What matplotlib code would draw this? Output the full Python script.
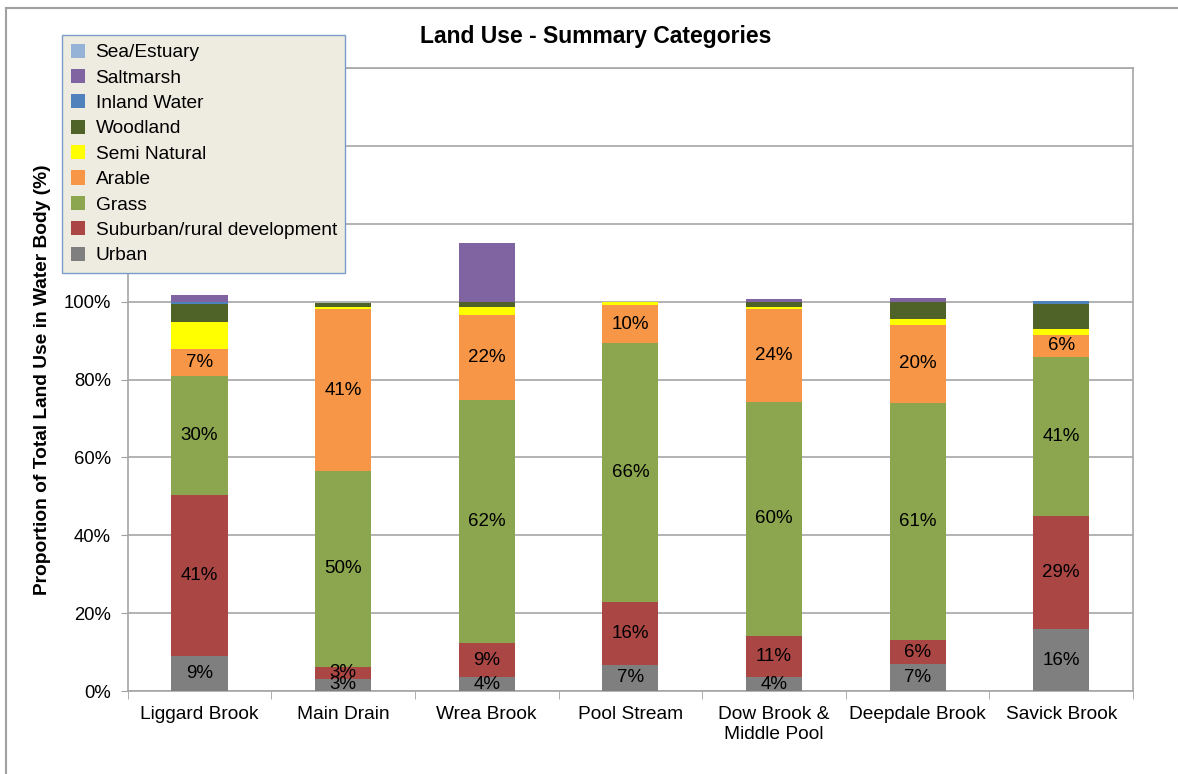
import matplotlib
matplotlib.use("Agg")
import matplotlib.pyplot as plt
import numpy as np

plt.rcParams["font.family"] = ["Liberation Sans", "DejaVu Sans"]

# --- data (percent of total land use) ---
water_bodies = ["Liggard Brook", "Main Drain", "Wrea Brook", "Pool Stream",
                "Dow Brook &\nMiddle Pool", "Deepdale Brook", "Savick Brook"]

categories = ["Urban", "Suburban/rural development", "Grass", "Arable",
              "Semi Natural", "Woodland", "Inland Water", "Saltmarsh", "Sea/Estuary"]

urban     = [9.0, 3.1, 3.6, 6.7, 3.6, 6.9, 15.9]
suburban  = [41.4, 3.1, 8.7, 16.2, 10.6, 6.2, 29.1]
grass     = [30.4, 50.4, 62.4, 66.4, 60.1, 60.9, 40.9]
arable    = [7.0, 41.4, 22.0, 9.9, 23.8, 20.1, 5.5]
semi_nat  = [7.1, 0.5, 2.0, 0.8, 0.4, 1.4, 1.5]
woodland  = [4.4, 1.2, 1.3, 0.0, 1.4, 4.5, 6.5]
inland    = [0.5, 0.0, 0.0, 0.0, 0.0, 0.0, 0.7]
saltmarsh = [2.0, 0.0, 15.0, 0.0, 0.8, 0.9, 0.0]
sea       = [0.0, 0.0, 0.0, 0.0, 0.0, 0.0, 0.0]

series = [urban, suburban, grass, arable, semi_nat, woodland, inland, saltmarsh, sea]
colors = ["#7F7F7F", "#AA4643", "#8BA64E", "#F79646", "#FFFF00",
          "#4F6228", "#4F81BD", "#8064A2", "#95B3D7"]
labelled = ["Urban", "Suburban/rural development", "Grass", "Arable"]

fig = plt.figure(figsize=(11.78, 7.74), dpi=100)
ax = fig.add_axes([0.1084, 0.1072, 0.8534, 0.8049])

x = np.arange(len(water_bodies))
bottom = np.zeros(len(water_bodies))
handles = []
for name, vals, col in zip(categories, series, colors):
    vals = np.array(vals)
    b = ax.bar(x, vals, 0.39, bottom=bottom, color=col, edgecolor="none", zorder=3)
    handles.append(b)
    if name in labelled:
        for xi, v, b0 in zip(x, vals, bottom):
            if v > 0:
                ax.text(xi, b0 + v / 2, "%d%%" % int(v + 0.5), ha="center", va="center",
                        fontsize=13.5, color="black", zorder=4)
    bottom += vals

ax.set_xlim(-0.5, len(water_bodies) - 0.5)
ax.set_ylim(0, 160)
ax.set_yticks(np.arange(0, 161, 20))
ax.set_yticklabels(["%d%%" % v for v in range(0, 161, 20)], fontsize=13.3)
ax.set_xticks(x)
ax.set_xticklabels(water_bodies, fontsize=13.8)
ax.set_xticks(np.arange(-0.5, len(water_bodies), 1), minor=True)
ax.tick_params(axis="x", which="major", length=0, pad=11)
ax.tick_params(axis="x", which="minor", length=6, color="#A0A0A0")
ax.tick_params(axis="y", length=5, color="#A0A0A0", pad=7)
ax.grid(axis="y", color="#A6A6A6", linewidth=1.2, zorder=0)
for s in ax.spines.values():
    s.set_color("#A6A6A6")
    s.set_linewidth(1.2)

ax.set_ylabel("Proportion of Total Land Use in Water Body (%)", fontsize=13.8,
              fontweight="bold", labelpad=9)
fig.text(0.506, 0.953, "Land Use - Summary Categories", ha="center", va="center",
         fontsize=16.5, fontweight="bold")

leg = fig.legend(handles[::-1], categories[::-1], loc="upper left",
                 bbox_to_anchor=(62 / 1178, 1 - 35 / 774), borderaxespad=0,
                 fontsize=13.8, frameon=True, fancybox=False,
                 handlelength=0.75, handleheight=0.75, handletextpad=0.55,
                 labelspacing=0.4, borderpad=0.45)
leg.get_frame().set_facecolor("#EEECE1")
leg.get_frame().set_edgecolor("#7C9CC8")
leg.get_frame().set_alpha(1)
leg.set_zorder(10)

# outer chart border (top and left visible)
fig.add_artist(plt.Line2D([0.005, 1.0], [0.99, 0.99], color="#A0A0A0", linewidth=1.5,
                          transform=fig.transFigure))
fig.add_artist(plt.Line2D([0.005, 0.005], [0.0, 0.99], color="#A0A0A0", linewidth=1.5,
                          transform=fig.transFigure))

plt.savefig("out.png", dpi=100)
plt.close()
